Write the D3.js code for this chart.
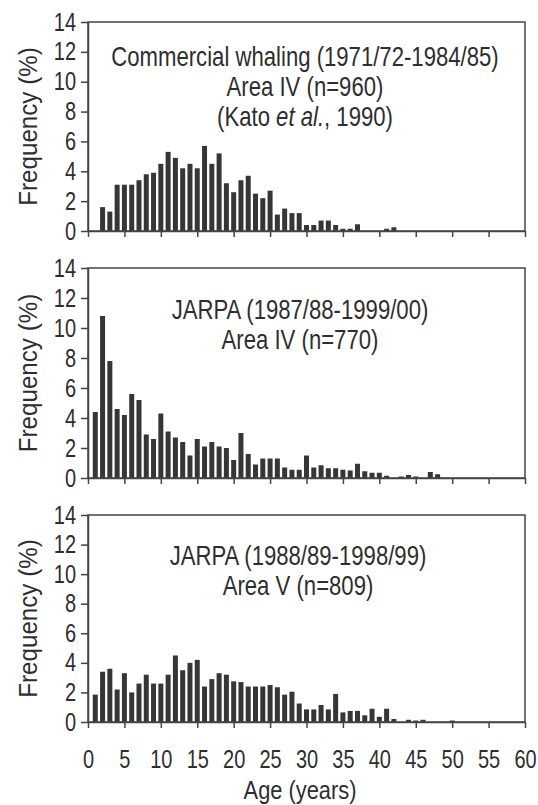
<!DOCTYPE html>
<html>
<head>
<meta charset="utf-8">
<script src="https://cdn.jsdelivr.net/npm/d3@7"></script>
<style>
  body { margin: 0; background: #fff; }
  svg { display: block; }
</style>
</head>
<body>
<div id="chart-container"></div>
<script>
// ---- data ----
const y_ticks = [0, 2, 4, 6, 8, 10, 12, 14];
const x_ticks = [0, 5, 10, 15, 20, 25, 30, 35, 40, 45, 50, 55, 60];

// commercial whaling, Area IV
const comm_ages = [2, 3, 4, 5, 6, 7, 8, 9, 10, 11, 12, 13, 14, 15, 16, 17, 18, 19, 20,
  21, 22, 23, 24, 25, 26, 27, 28, 29, 30, 31, 32, 33, 34, 35, 36, 37, 41, 42];
const comm_freq = [1.6, 1.3, 3.1, 3.1, 3.1, 3.4, 3.8, 3.9, 4.5, 5.3, 4.9, 4.2, 4.5, 4.2, 5.7,
  4.5, 5.2, 3.2, 2.6, 3.4, 3.7, 2.5, 2.2, 2.7, 1.1, 1.5, 1.2, 1.2, 0.4, 0.4, 0.7, 0.7, 0.4,
  0.15, 0.15, 0.45, 0.15, 0.25];

// JARPA, Area IV
const jarpa4_ages = [1, 2, 3, 4, 5, 6, 7, 8, 9, 10, 11, 12, 13, 14, 15, 16, 17, 18, 19, 20,
  21, 22, 23, 24, 25, 26, 27, 28, 29, 30, 31, 32, 33, 34, 35, 36, 37, 38, 39, 40, 41,
  43, 44, 45, 47, 48];
const jarpa4_freq = [4.4, 10.8, 7.8, 4.6, 4.2, 5.6, 5.2, 2.9, 2.6, 4.3, 3.1, 2.7, 2.4, 1.5,
  2.6, 2.1, 2.4, 2.1, 2.0, 1.2, 3.0, 1.6, 0.9, 1.3, 1.3, 1.3, 0.7, 0.55, 0.55, 1.5, 0.7,
  0.85, 0.65, 0.65, 0.55, 0.5, 0.95, 0.45, 0.35, 0.35, 0.15, 0.1, 0.2, 0.1, 0.4, 0.25];

// JARPA, Area V
const jarpa5_ages = [1, 2, 3, 4, 5, 6, 7, 8, 9, 10, 11, 12, 13, 14, 15, 16, 17, 18, 19, 20,
  21, 22, 23, 24, 25, 26, 27, 28, 29, 30, 31, 32, 33, 34, 35, 36, 37, 38, 39, 40, 41, 42,
  44, 45, 46, 50];
const jarpa5_freq = [1.85, 3.4, 3.6, 2.2, 3.3, 2.0, 2.6, 3.2, 2.6, 2.6, 3.2, 4.5, 3.5, 4.0,
  4.2, 2.4, 2.9, 3.3, 3.2, 2.75, 2.7, 2.4, 2.4, 2.4, 2.5, 2.35, 1.85, 2.05, 1.25, 0.85,
  0.85, 1.15, 0.85, 1.9, 0.65, 0.75, 0.75, 0.45, 0.9, 0.35, 0.9, 0.2, 0.15, 0.1, 0.15, 0.1];

const comm_title = ["Commercial whaling (1971/72-1984/85)", "Area IV (n=960)", "(Kato et al., 1990)"];
const jarpa4_title = ["JARPA (1987/88-1999/00)", "Area IV (n=770)"];
const jarpa5_title = ["JARPA (1988/89-1998/99)", "Area V (n=809)"];

const y_label = "Frequency (%)";
const x_label = "Age (years)";

// ---- layout ----
const width = 538, height = 805;
const font = "'Liberation Sans', Arial, sans-serif";
const ink = "#2e2e2e";
const bar_color = "#363636";

let panels = [
  { ages: comm_ages, freq: comm_freq, title: comm_title, y0: 231, y14: 22, title_x: 305, title_y: 66, x_labels: false },
  { ages: jarpa4_ages, freq: jarpa4_freq, title: jarpa4_title, y0: 478, y14: 268, title_x: 300, title_y: 319, x_labels: false },
  { ages: jarpa5_ages, freq: jarpa5_freq, title: jarpa5_title, y0: 722, y14: 515, title_x: 298, title_y: 565, x_labels: true },
];

let svg = d3.select("#chart-container")
  .append("svg")
  .attr("width", width)
  .attr("height", height)
  .style("font-family", font);

let xScale = d3.scaleLinear().domain([0, 60]).range([88, 525]);
let bar_w = 5;
let tick_k = 0.8; // horizontal squeeze, the original uses a condensed face

panels.forEach((p) => {
  let yScale = d3.scaleLinear().domain([0, 14]).range([p.y0, p.y14]);
  let g = svg.append("g");

  // bars
  g.selectAll(".bar")
    .data(p.ages.map((a, i) => ({ age: a, freq: p.freq[i] })))
    .enter()
    .append("rect")
    .attr("class", "bar")
    .attr("x", (d) => xScale(d.age) - bar_w / 2)
    .attr("y", (d) => yScale(d.freq))
    .attr("width", bar_w)
    .attr("height", (d) => yScale(0) - yScale(d.freq))
    .attr("fill", bar_color);

  // frame
  g.append("rect")
    .attr("x", xScale(0))
    .attr("y", yScale(14))
    .attr("width", xScale(60) - xScale(0))
    .attr("height", yScale(0) - yScale(14))
    .attr("fill", "none")
    .attr("stroke", "#444")
    .attr("stroke-width", 1.5);

  // y axis
  g.append("g")
    .attr("class", "y-axis")
    .attr("transform", `translate(${xScale(0)},0)`)
    .call(d3.axisLeft(yScale).tickValues(y_ticks).tickSize(7).tickSizeOuter(0));

  // x axis
  g.append("g")
    .attr("class", "x-axis")
    .attr("transform", `translate(0,${yScale(0)})`)
    .call(
      d3.axisBottom(xScale)
        .tickValues(x_ticks)
        .tickSize(6)
        .tickSizeOuter(0)
        .tickFormat((d) => (p.x_labels ? d : ""))
    );

  g.selectAll(".domain, .tick line").attr("stroke", "#444").attr("stroke-width", 1.5);
  g.selectAll(".y-axis .tick text")
    .attr("fill", ink)
    .style("font-size", "25px")
    .attr("x", -12 / tick_k)
    .attr("transform", `scale(${tick_k},1)`);
  g.selectAll(".x-axis .tick text")
    .attr("fill", ink)
    .style("font-size", "25px")
    .attr("y", 46)
    .attr("dy", 0)
    .attr("transform", `scale(${tick_k},1)`);

  // y label
  g.append("text")
    .attr("transform", `translate(37,${(yScale(0) + yScale(14)) / 2}) rotate(-90) scale(0.93,1)`)
    .attr("text-anchor", "middle")
    .attr("fill", ink)
    .style("font-size", "26px")
    .text(y_label);

  // panel title
  p.title.forEach((line, i) => {
    let t = g.append("text")
      .attr("transform", `translate(${p.title_x},${p.title_y + i * 30}) scale(0.82,1)`)
      .attr("text-anchor", "middle")
      .attr("fill", ink)
      .style("font-size", "27px");
    let parts = line.split("et al.");
    if (parts.length > 1) {
      t.append("tspan").text(parts[0]);
      t.append("tspan").style("font-style", "italic").text("et al.");
      t.append("tspan").text(parts[1]);
    } else {
      t.text(line);
    }
  });

  if (p.x_labels) {
    g.append("text")
      .attr("transform", `translate(300,799) scale(0.84,1)`)
      .attr("text-anchor", "middle")
      .attr("fill", ink)
      .style("font-size", "26px")
      .text(x_label);
  }
});
</script>
</body>
</html>
